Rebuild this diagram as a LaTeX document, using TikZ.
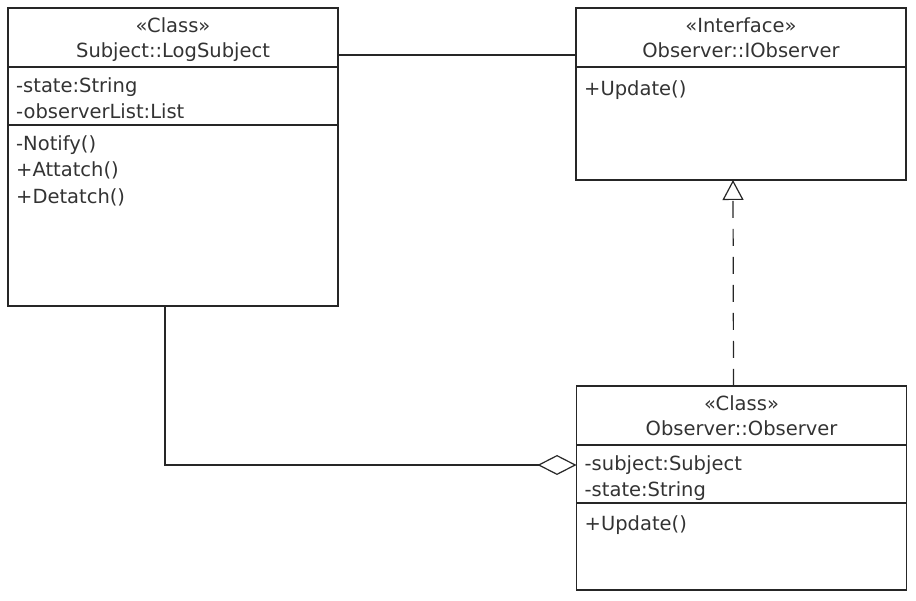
\documentclass[tikz,border=0pt]{standalone}
\usepackage{fontspec}
\setmainfont{DejaVu Sans}
\usetikzlibrary{arrows.meta,positioning}

\tikzset{
  umlpart/.style={draw=black!85,line width=1.2pt,outer sep=0pt,inner sep=0pt,minimum width=330pt},
  umltitle/.style={anchor=north,inner sep=0pt,align=center,font=\fontsize{19.5}{25}\selectfont,execute at begin node=\rule{0pt}{18pt}},
  umlitems/.style={anchor=north west,inner sep=0pt,align=left,execute at begin node=\rule{0pt}{18pt}},
  umlline/.style={draw=black!85,line width=1.2pt},
}

\begin{document}
\begin{tikzpicture}[x=1pt,y=1pt,font=\fontsize{19.5}{26.5}\selectfont,text=black!80]
    \useasboundingbox (0,0) rectangle (916,601);

    % Subject::LogSubject
    \node [umlpart,minimum height=59pt] (subj-head) at (173,563.5) {};
    \node [umlpart,minimum height=58pt,below=0pt of subj-head] (subj-attr) {};
    \node [umlpart,minimum height=181pt,below=0pt of subj-attr] (subj-ops) {};
    \node [umltitle] (subj-name) at ([yshift=-9.5pt]subj-head.north) {«Class»\\Subject::LogSubject};
    \node [umlitems] (subj-attr-list) at ([xshift=8pt,yshift=-10pt]subj-attr.north west) {-state:String\\-observerList:List};
    \node [umlitems] (subj-ops-list) at ([xshift=8pt,yshift=-10pt]subj-ops.north west) {-Notify()\\+Attatch()\\+Detatch()};

    % Observer::IObserver
    \node [umlpart,minimum height=59pt] (iobs-head) at (741,563.5) {};
    \node [umlpart,minimum height=113pt,below=0pt of iobs-head] (iobs-ops) {};
    \node [umltitle] (iobs-name) at ([yshift=-9.5pt]iobs-head.north) {«Interface»\\Observer::IObserver};
    \node [umlitems] (iobs-ops-list) at ([xshift=8pt,yshift=-10pt]iobs-ops.north west) {+Update()};

    % Observer::Observer
    \node [umlpart,minimum height=59pt] (obs-head) at (741.5,185.5) {};
    \node [umlpart,minimum height=58pt,below=0pt of obs-head] (obs-attr) {};
    \node [umlpart,minimum height=87pt,below=0pt of obs-attr] (obs-ops) {};
    \node [umltitle] (obs-name) at ([yshift=-9.5pt]obs-head.north) {«Class»\\Observer::Observer};
    \node [umlitems] (obs-attr-list) at ([xshift=8pt,yshift=-10pt]obs-attr.north west) {-subject:Subject\\-state:String};
    \node [umlitems] (obs-ops-list) at ([xshift=8pt,yshift=-9.5pt]obs-ops.north west) {+Update()};

    % Association
    \draw [umlline] ([yshift=-17.5pt]subj-head.east) -- ([yshift=-17.5pt]iobs-head.west);

    % Realization
    \draw [umlline,dash pattern=on 17pt off 11pt,-{Triangle[open,length=20pt,width=21pt]}]
        ([xshift=-8pt]obs-head.north) -- ([xshift=-8pt]iobs-ops.south);

    % Aggregation
    \draw [umlline,-{Diamond[open,length=39pt,width=20pt]}]
        ([xshift=-8pt]subj-ops.south) |- ([yshift=9pt]obs-attr.west);

\end{tikzpicture}
\end{document}
